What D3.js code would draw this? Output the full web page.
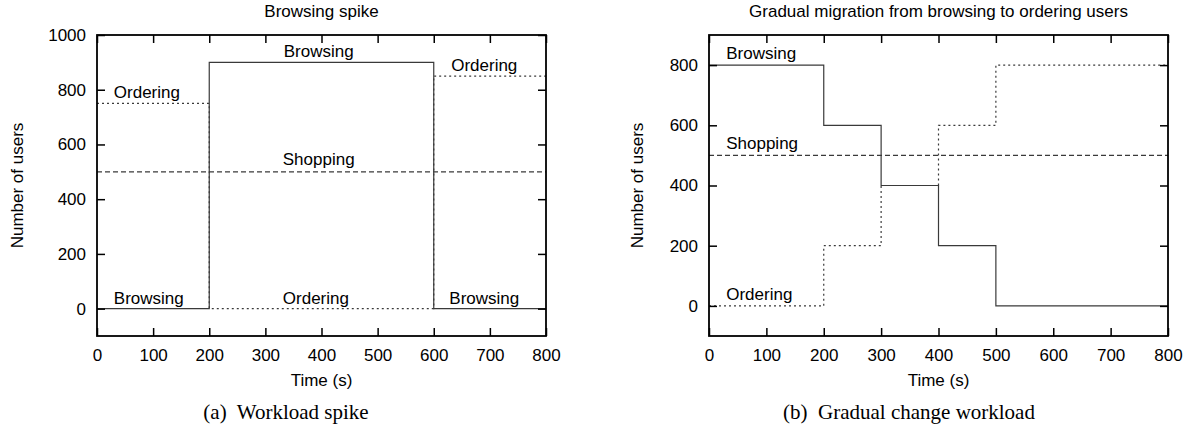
<!DOCTYPE html>
<html>
<head>
<meta charset="utf-8">
<script src="https://cdn.jsdelivr.net/npm/d3@7"></script>
<style>
  body { margin: 0; background: #fff; }
  text { font-family: "Liberation Sans", Arial, sans-serif; fill: #000; }
  .caption { font-family: "Liberation Serif", "Times New Roman", serif; }
</style>
</head>
<body>
<div id="chart"></div>
<script>
// panel (a): browsing spike
const spikeTimes = [0, 200, 600, 800];
const spikeBrowsing = [0, 900, 0, 0];
const spikeOrdering = [750, 0, 850, 850];
const spikeShopping = [500, 500, 500, 500];
const spikeYTicks = [0, 200, 400, 600, 800, 1000];
const spikeLabels = [
  { text: "Ordering", t: 30, v: 790, anchor: "start" },
  { text: "Browsing", t: 395, v: 940, anchor: "middle" },
  { text: "Ordering", t: 690, v: 890, anchor: "middle" },
  { text: "Shopping", t: 395, v: 545, anchor: "middle" },
  { text: "Browsing", t: 30, v: 40, anchor: "start" },
  { text: "Ordering", t: 390, v: 40, anchor: "middle" },
  { text: "Browsing", t: 690, v: 40, anchor: "middle" }
];

// panel (b): gradual change
const gradualTimes = [0, 200, 300, 400, 500, 800];
const gradualBrowsing = [800, 600, 400, 200, 0, 0];
const gradualOrdering = [0, 200, 400, 600, 800, 800];
const gradualShopping = [500, 500, 500, 500, 500, 500];
const gradualYTicks = [0, 200, 400, 600, 800];
const gradualLabels = [
  { text: "Browsing", t: 30, v: 840, anchor: "start" },
  { text: "Shopping", t: 30, v: 540, anchor: "start" },
  { text: "Ordering", t: 30, v: 40, anchor: "start" }
];

const xTicks = [0, 100, 200, 300, 400, 500, 600, 700, 800];

const svg = d3.select("#chart").append("svg")
  .attr("width", 1197)
  .attr("height", 429);

const panels = [
  {
    left: 97, right: 546, top: 35, bottom: 336,
    yDomain: [-100, 1000], yTicks: spikeYTicks,
    times: spikeTimes,
    series: [
      { values: spikeBrowsing, dash: null },
      { values: spikeOrdering, dash: "2,3" },
      { values: spikeShopping, dash: "5,3" }
    ],
    labels: spikeLabels,
    title: "Browsing spike",
    caption: "(a)\u00a0 Workload spike", captionX: 286,
    yLabelX: 23
  },
  {
    left: 709, right: 1168, top: 35, bottom: 336,
    yDomain: [-100, 900], yTicks: gradualYTicks,
    times: gradualTimes,
    series: [
      { values: gradualBrowsing, dash: null },
      { values: gradualOrdering, dash: "2,3" },
      { values: gradualShopping, dash: "5,3" }
    ],
    labels: gradualLabels,
    title: "Gradual migration from browsing to ordering users",
    caption: "(b)\u00a0 Gradual change workload", captionX: 909,
    yLabelX: 643
  }
];

const drawPanel = p => {
  const x = d3.scaleLinear().domain([0, 800]).range([p.left, p.right]);
  const y = d3.scaleLinear().domain(p.yDomain).range([p.bottom, p.top]);
  const g = svg.append("g");

  // data lines (step after)
  const line = d3.line()
    .x(d => x(d.t))
    .y(d => y(d.v))
    .curve(d3.curveStepAfter);
  p.series.forEach(s => {
    const pts = p.times.map((t, i) => ({ t: t, v: s.values[i] }));
    g.append("path")
      .datum(pts)
      .attr("d", line)
      .attr("fill", "none")
      .attr("stroke", "#3a3a3a")
      .attr("stroke-width", 1.2)
      .attr("stroke-dasharray", s.dash);
  });

  // axes with inward ticks, mirrored
  const styleAxis = a => {
    a.select(".domain").remove();
    a.selectAll("line").attr("stroke", "#000").attr("stroke-width", 1.5);
    a.selectAll("text")
      .attr("font-family", "Liberation Sans, Arial, sans-serif")
      .attr("font-size", 17)
      .attr("fill", "#000");
  };
  g.append("g")
    .attr("transform", `translate(0,${p.bottom})`)
    .call(d3.axisBottom(x).tickValues(xTicks).tickSize(-8).tickPadding(13).tickFormat(d3.format("d")))
    .call(styleAxis);
  g.append("g")
    .attr("transform", `translate(0,${p.top})`)
    .call(d3.axisTop(x).tickValues(xTicks).tickSize(-8).tickFormat(""))
    .call(styleAxis);
  g.append("g")
    .attr("transform", `translate(${p.left},0)`)
    .call(d3.axisLeft(y).tickValues(p.yTicks).tickSize(-8).tickPadding(11).tickFormat(d3.format("d")))
    .call(styleAxis);
  g.append("g")
    .attr("transform", `translate(${p.right},0)`)
    .call(d3.axisRight(y).tickValues(p.yTicks).tickSize(-8).tickFormat(""))
    .call(styleAxis);

  // frame
  g.append("rect")
    .attr("x", p.left)
    .attr("y", p.top)
    .attr("width", p.right - p.left)
    .attr("height", p.bottom - p.top)
    .attr("fill", "none")
    .attr("stroke", "#000")
    .attr("stroke-width", 1.8);

  // series labels
  g.selectAll(".lbl")
    .data(p.labels)
    .enter()
    .append("text")
    .attr("x", d => x(d.t))
    .attr("y", d => y(d.v))
    .attr("dy", "0.35em")
    .attr("text-anchor", d => d.anchor)
    .attr("font-size", 17)
    .text(d => d.text);

  // title
  g.append("text")
    .attr("x", (p.left + p.right) / 2)
    .attr("y", 17)
    .attr("text-anchor", "middle")
    .attr("font-size", 17)
    .text(p.title);

  // axis labels
  g.append("text")
    .attr("x", (p.left + p.right) / 2)
    .attr("y", 386)
    .attr("text-anchor", "middle")
    .attr("font-size", 17)
    .text("Time (s)");
  g.append("text")
    .attr("transform", `translate(${p.yLabelX},${(p.top + p.bottom) / 2}) rotate(-90)`)
    .attr("text-anchor", "middle")
    .attr("font-size", 17)
    .text("Number of users");

  // caption
  g.append("text")
    .attr("class", "caption")
    .attr("x", p.captionX)
    .attr("y", 419)
    .attr("text-anchor", "middle")
    .attr("font-size", 21)
    .text(p.caption);
};

panels.forEach(drawPanel);
</script>
</body>
</html>
